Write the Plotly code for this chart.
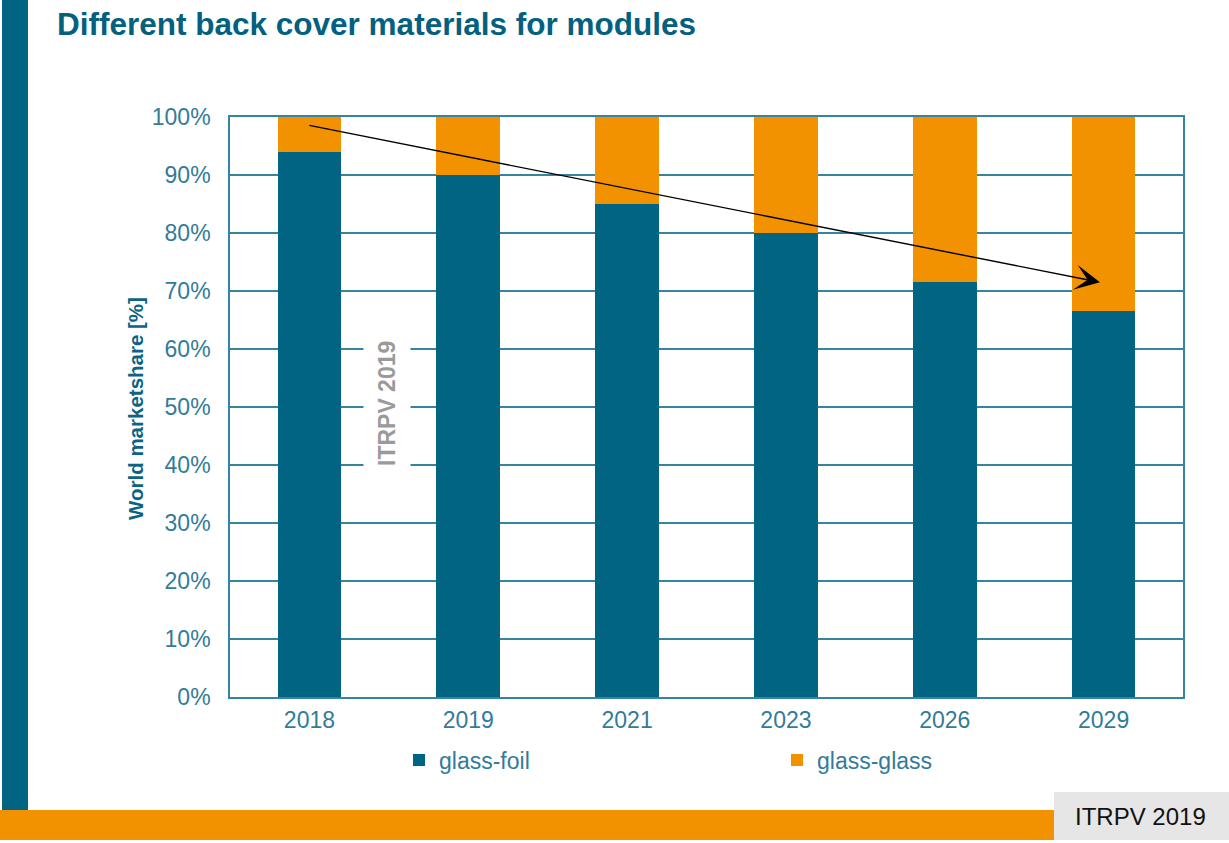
import plotly.graph_objects as go

# Market share of back cover materials (in %)
years = ["2018", "2019", "2021", "2023", "2026", "2029"]
glass_foil = [94, 90, 85, 80, 71.5, 66.5]
glass_glass = [6, 10, 15, 20, 28.5, 33.5]
y_ticks = [0, 10, 20, 30, 40, 50, 60, 70, 80, 90, 100]

# Trend arrow from the first to the last year (glass-foil share)
trend_start = 98.6
trend_end = 71.5

W, H = 1229, 843
L, R, T, B = 230, 1183, 117, 697  # plot area in pixels

TEAL = "#006482"
ORANGE = "#F39200"
GRID = "#3584a1"
TXT = "#327b99"
FONT = "Liberation Sans, Arial, sans-serif"


def px(x):
    return (x - L) / (R - L)


def py(y):
    return (B - y) / (B - T)


x_idx = list(range(len(years)))

fig = go.Figure()
fig.add_trace(go.Bar(x=x_idx, y=glass_foil, name="glass-foil",
                     marker=dict(color=TEAL, line=dict(width=0)), width=0.4))
fig.add_trace(go.Bar(x=x_idx, y=glass_glass, name="glass-glass",
                     marker=dict(color=ORANGE, line=dict(width=0)), width=0.4))

fig.update_layout(
    barmode="stack",
    width=W, height=H,
    margin=dict(l=L, r=W - R, t=T, b=H - B, autoexpand=False),
    paper_bgcolor="white", plot_bgcolor="white",
    font=dict(family=FONT, size=23, color=TXT),
    title=dict(text="<b>Different back cover materials for modules</b>",
               font=dict(family=FONT, size=31.5, color="#03617f"),
               xref="container", yref="container",
               x=57 / W, xanchor="left", y=1 - 24 / H, yanchor="middle"),
    showlegend=True,
    legend=dict(orientation="h", x=px(399), xanchor="left",
                y=py(760), yanchor="middle",
                entrywidth=333, entrywidthmode="pixels",
                font=dict(family=FONT, size=23, color=TXT),
                traceorder="normal", bgcolor="rgba(0,0,0,0)"),
    bargap=0.6,
)

fig.update_xaxes(
    range=[-0.5, 5.5], tickmode="array", tickvals=x_idx, ticktext=years,
    showgrid=False, zeroline=False, ticks="",
    showline=True, mirror=True, linecolor=GRID, linewidth=1.6,
    layer="below traces", ticklabelstandoff=2,
    tickfont=dict(family=FONT, size=23, color=TXT),
)
fig.update_yaxes(
    range=[0, 100], tickmode="array", tickvals=y_ticks,
    ticktext=[f"{v}%" for v in y_ticks],
    showgrid=True, gridcolor=GRID, gridwidth=1.6, zeroline=False, ticks="",
    showline=True, mirror=True, linecolor=GRID, linewidth=1.6,
    layer="below traces", ticklabelstandoff=13,
    tickfont=dict(family=FONT, size=23, color=TXT),
)

# Axis title
fig.add_annotation(text="<b>World marketshare [%]</b>", textangle=-90,
                   xref="paper", yref="paper", x=px(135), y=py(409),
                   xanchor="center", yanchor="middle", showarrow=False,
                   font=dict(family=FONT, size=20.5, color="#0b6483"))

# Source watermark inside the plot
fig.add_annotation(text="<b>ITRPV 2019</b>", textangle=-90,
                   xref="paper", yref="paper", x=px(387), y=py(404),
                   xanchor="center", yanchor="middle", showarrow=False,
                   bgcolor="white", borderpad=10,
                   font=dict(family=FONT, size=23, color="#9a9a9a"))

# Trend arrow
fig.add_annotation(x=4.977, y=trend_end, ax=-0.01, ay=trend_start,
                   xref="x", yref="y", axref="x", ayref="y",
                   showarrow=True, arrowhead=3, arrowsize=3, arrowwidth=1.4,
                   arrowcolor="black", text="")

# Frame decorations: left bar, bottom band, source box
fig.add_shape(type="rect", xref="paper", yref="paper",
              x0=px(2), x1=px(28), y0=py(810), y1=py(0),
              fillcolor=TEAL, line=dict(width=0), layer="above")
fig.add_shape(type="rect", xref="paper", yref="paper",
              x0=px(0), x1=px(W), y0=py(840), y1=py(810),
              fillcolor=ORANGE, line=dict(width=0), layer="above")
fig.add_shape(type="rect", xref="paper", yref="paper",
              x0=px(1054), x1=px(W), y0=py(840), y1=py(792),
              fillcolor="#e6e6e6", line=dict(width=0), layer="above")
fig.add_annotation(text="ITRPV 2019", xref="paper", yref="paper",
                   x=px(1140), y=py(816), xanchor="center", yanchor="middle",
                   showarrow=False,
                   font=dict(family=FONT, size=24, color="#111111"))

fig.write_html("out.html")
